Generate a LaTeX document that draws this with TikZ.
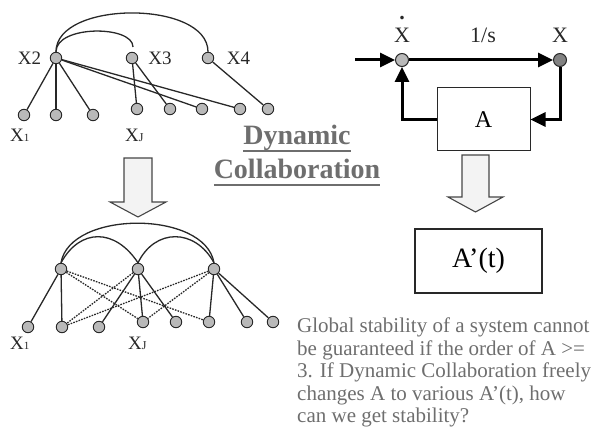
\documentclass[tikz,border=0pt]{standalone}
\usepackage{fontspec}
\setmainfont{Liberation Serif}
\usetikzlibrary{arrows.meta}
\definecolor{nodegray}{RGB}{185,185,185}
\definecolor{nodedark}{RGB}{130,130,130}
\definecolor{linec}{RGB}{40,40,40}
\definecolor{textgray}{RGB}{110,110,110}
\definecolor{arrowfill}{RGB}{243,243,243}
\definecolor{arrowline}{RGB}{70,70,70}
\newcommand\myuline[1]{\setbox0\hbox{#1}\rlap{\rule[-7pt]{\wd0}{1.8pt}}\box0}
\begin{document}
\begin{tikzpicture}[x=1pt,y=-1pt,
  vert/.style={circle,draw=linec,fill=nodegray,line width=0.9pt,inner sep=0pt,minimum size=11.5pt},
  edge/.style={draw=linec,line width=1.3pt},
  dotedge/.style={draw=linec,line width=1.3pt,dash pattern=on 1.6pt off 1.2pt},
  lab/.style={font=\fontsize{19}{19}\selectfont,text=linec,inner sep=0pt,anchor=base},
  sublab/.style={font=\fontsize{19}{19}\selectfont,text=linec,inner sep=0pt,anchor=base west},
  blab/.style={font=\fontsize{22}{22}\selectfont,text=linec,inner sep=0pt,anchor=base},
  flow/.style={draw=black,line width=3pt,-{Triangle[length=15pt,width=14pt]}},
  hollow/.style={draw=arrowline,fill=arrowfill,line width=1.1pt,line join=miter},
  boxstyle/.style={draw=linec,fill=white,inner sep=0pt}
]
\useasboundingbox (0,0) rectangle (602,430);

% ---------- top-left graph ----------
\node[vert] (x2) at (56,58) {};
\node[vert] (x3) at (132,58) {};
\node[vert] (x4) at (208,58) {};
\node[vert] (b1) at (24,115) {};
\node[vert] (b2) at (56,115) {};
\node[vert] (b3) at (93,115) {};
\node[vert] (b4) at (137,109) {};
\node[vert] (b5) at (170,109) {};
\node[vert] (b6) at (202,109) {};
\node[vert] (b7) at (240,109) {};
\node[vert] (b8) at (268,109) {};
\foreach \t in {b1,b2,b3,b6,b7} \draw[edge] (x2) -- (\t);
\draw[edge] (x3) -- (b4);
\draw[edge] (x3) -- (b5);
\draw[edge] (x4) -- (b8);
\coordinate (x3top) at (133,47);
\draw[edge] (x2.north) .. controls (56,25) and (133,25) .. (x3top);
\draw[edge] (x2.north) .. controls (56,0) and (208,0) .. (x4.north);
\node[lab] (lx2) at (29.5,65) {X2};
\node[lab] (lx3) at (160,65) {X3};
\node[lab] (lx4) at (238.5,65) {X4};
\node[sublab] (lx1) at (10,142) {X{\fontsize{11}{11}\selectfont 1}};
\node[sublab] (lxj) at (125,142) {X{\fontsize{12}{12}\selectfont J}};

% ---------- bottom-left graph ----------
\node[vert] (L) at (61,269) {};
\node[vert] (M) at (138,269) {};
\node[vert] (R) at (214,269) {};
\node[vert] (c1) at (28,327) {};
\node[vert] (c2) at (62,327) {};
\node[vert] (c3) at (99,327) {};
\node[vert] (c4) at (143,322) {};
\node[vert] (c5) at (176,322) {};
\node[vert] (c6) at (209,322) {};
\node[vert] (c7) at (247,322) {};
\node[vert] (c8) at (273,322) {};
\draw[edge] (L) -- (c1);
\draw[edge] (L) -- (c2);
\draw[edge] (M) -- (c3);
\draw[edge] (M) -- (c4);
\draw[edge] (M) -- (c5);
\draw[edge] (R) -- (c6);
\draw[edge] (R) -- (c7);
\draw[edge] (R) -- (c8);
\draw[dotedge] (L) -- (c4);
\draw[dotedge] (L) -- (c6);
\draw[dotedge] (M) -- (c2);
\draw[dotedge] (R) -- (c2);
\draw[dotedge] (R) -- (c4);
\draw[edge] (L.north) .. controls (70,210) and (205,210) .. (R.north);
\draw[edge] (L.north) .. controls (80,228) and (115,228) .. (M.north);
\draw[edge] (M.north) .. controls (155,228) and (195,228) .. (R.north);
\node[sublab] (ly1) at (10,349) {X{\fontsize{11}{11}\selectfont 1}};
\node[sublab] (lyj) at (128,349) {X{\fontsize{12}{12}\selectfont J}};

% ---------- hollow arrows ----------
\draw[hollow] (124,158) -- (152,158) -- (152,202) -- (166,202) -- (138,217) -- (110,202) -- (124,202) -- cycle;
\draw[hollow] (462,155) -- (489,155) -- (489,197) -- (503,197) -- (475.5,212) -- (448,197) -- (462,197) -- cycle;

% ---------- title ----------
\node[font=\bfseries\fontsize{28}{34}\selectfont,text=textgray,align=center,inner sep=0pt,anchor=base] (title) at (297,179)
  {\myuline{Dynamic}\\\myuline{Collaboration}};

% ---------- block diagram ----------
\node[circle,draw=linec,fill=nodegray,line width=1pt,inner sep=0pt,minimum size=13pt] (xd) at (402,60) {};
\node[circle,draw=linec,fill=nodedark,line width=1pt,inner sep=0pt,minimum size=13pt] (xx) at (560,60) {};
\coordinate (in) at (355,60);
\node[boxstyle,line width=1pt,minimum width=93pt,minimum height=63pt,font=\fontsize{24}{24}\selectfont] (A) at (483.5,119.5) {A};
\draw[flow] (in) -- (xd);
\draw[flow] (xd) -- (xx);
\draw[flow] (xx.south) |- (A.east);
\draw[flow] (A.west) -| (xd.south);
\node[blab] (lxd) at (402,43) {\rlap{\hbox to \fontcharwd\font`X{\hss\raisebox{23pt}{\bfseries .}\hss}}X};
\node[blab] (l1s) at (483,43) {1/s};
\node[blab] (lx) at (560,43) {X};

% ---------- A'(t) box ----------
\node[boxstyle,line width=1.3pt,minimum width=127pt,minimum height=64pt,font=\fontsize{28}{28}\selectfont] (Ap) at (478.5,261) {A’(t)};

% ---------- paragraph ----------
\node[font=\fontsize{21}{22.5}\selectfont,text=textgray,align=left,inner sep=0pt,anchor=north west] (para) at (297,318)
  {Global stability of a system cannot\\
   be guaranteed if the order of A >=\\
   3. If Dynamic Collaboration freely\\
   changes A to various A’(t), how\\
   can we get stability?};
\end{tikzpicture}
\end{document}
